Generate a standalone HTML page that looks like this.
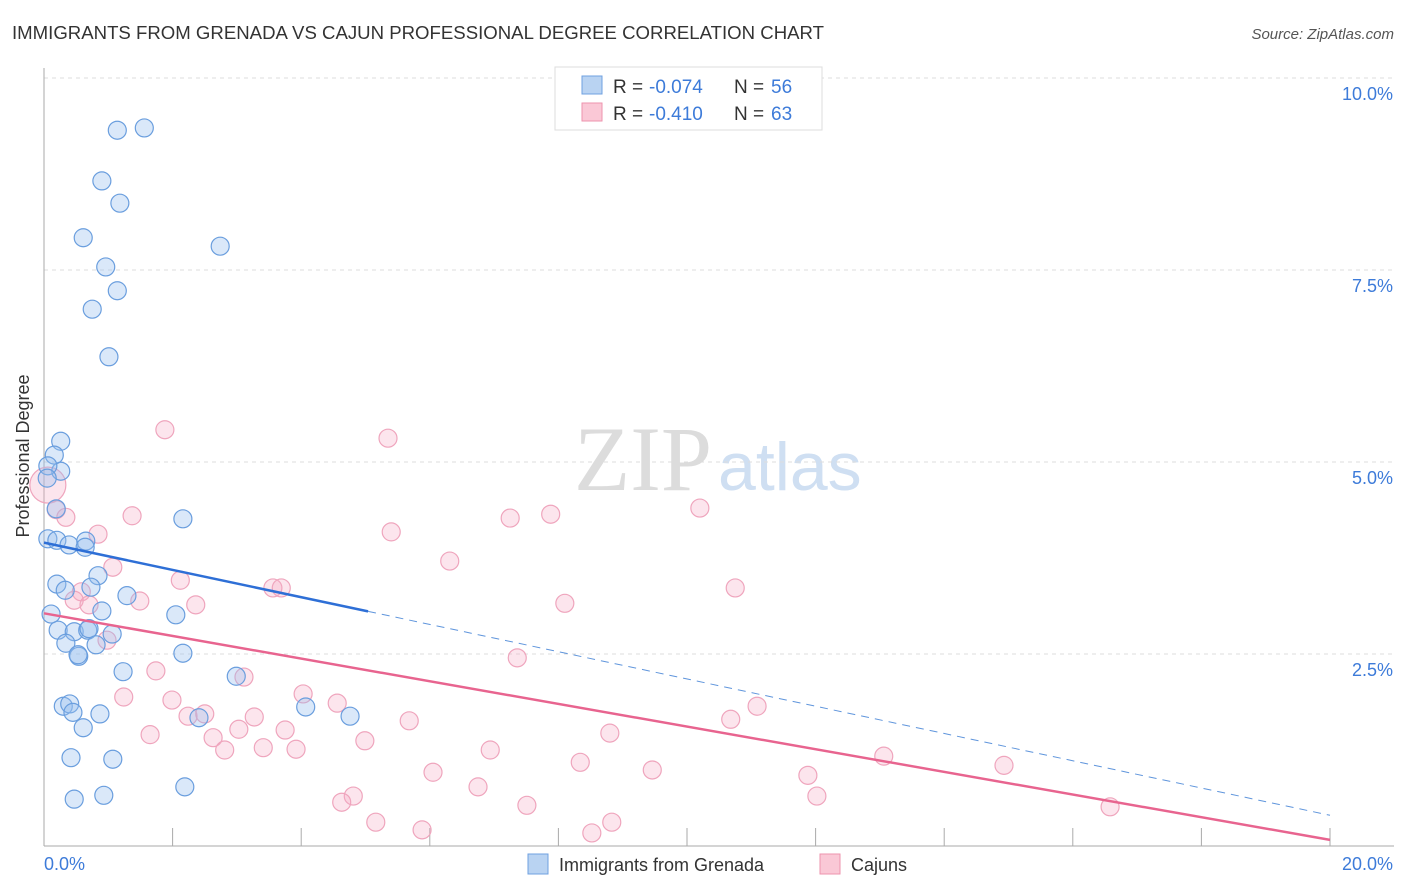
<!DOCTYPE html>
<html><head><meta charset="utf-8"><style>
body{margin:0;background:#fff;font-family:"Liberation Sans",sans-serif}
</style></head><body>
<svg width="1406" height="892" style="position:absolute;left:0;top:0">
<text x="12" y="39" font-size="18" fill="#333" textLength="812" lengthAdjust="spacingAndGlyphs">IMMIGRANTS FROM GRENADA VS CAJUN PROFESSIONAL DEGREE CORRELATION CHART</text>
<text x="1394" y="39" font-size="15" fill="#555" font-style="italic" text-anchor="end">Source: ZipAtlas.com</text>
<text x="712" y="490" font-size="92" fill="#dcdcdc" text-anchor="end" font-family="Liberation Serif">ZIP</text>
<text x="718" y="490" font-size="68" fill="#cfdff2">atlas</text>
<g id="grid"></g><g id="axes"></g><g id="marks"></g>
<text x="29" y="456" font-size="18" fill="#333" text-anchor="middle" transform="rotate(-90 29 456)">Professional Degree</text>
<g>
<rect x="555" y="67" width="267" height="63" fill="#fff" stroke="#ddd"/>
<rect x="582" y="76" width="20" height="18" fill="#b9d3f2" stroke="#6fa0e0"/>
<rect x="582" y="103" width="20" height="18" fill="#fac8d6" stroke="#ee93ae"/>
<text x="613" y="93" font-size="19" fill="#333">R =</text><text x="649" y="93" font-size="19" fill="#3d7bd9">-0.074</text>
<text x="734" y="93" font-size="19" fill="#333">N =</text><text x="771" y="93" font-size="19" fill="#3d7bd9">56</text>
<text x="613" y="120" font-size="19" fill="#333">R =</text><text x="649" y="120" font-size="19" fill="#3d7bd9">-0.410</text>
<text x="734" y="120" font-size="19" fill="#333">N =</text><text x="771" y="120" font-size="19" fill="#3d7bd9">63</text>
</g>
<g>
<rect x="528" y="854" width="20" height="20" fill="#b9d3f2" stroke="#6fa0e0"/>
<text x="559" y="871" font-size="18" fill="#333">Immigrants from Grenada</text>
<rect x="820" y="854" width="20" height="20" fill="#fac8d6" stroke="#ee93ae"/>
<text x="851" y="871" font-size="18" fill="#333">Cajuns</text>
</g>
</svg>
<script>
const xTicks=[0,2,4,6,8,10,12,14,16,18,20];
const yTicks=[2.5,5.0,7.5,10.0];
const yTickLabels=["2.5%","5.0%","7.5%","10.0%"];
const blueX=[1.14,1.56,0.90,1.18,0.61,2.74,0.96,1.14,0.75,1.01,0.26,0.16,0.26,0.06,0.05,0.19,2.16,0.06,0.20,0.39,0.65,0.64,0.20,0.33,0.84,0.73,1.29,2.05,0.90,0.11,0.22,0.47,0.68,0.70,1.06,0.81,0.34,0.54,0.53,2.16,1.23,2.99,4.07,4.76,0.30,0.40,0.45,0.87,2.41,0.61,0.42,1.07,2.19,0.47,0.93];
const blueY=[9.32,9.35,8.66,8.37,7.92,7.81,7.54,7.23,6.99,6.37,5.27,5.09,4.88,4.95,4.79,4.39,4.26,4.00,3.98,3.92,3.97,3.89,3.41,3.33,3.52,3.37,3.26,3.01,3.06,3.02,2.81,2.79,2.81,2.83,2.76,2.62,2.64,2.47,2.49,2.51,2.27,2.21,1.81,1.69,1.82,1.85,1.74,1.72,1.67,1.54,1.15,1.13,0.77,0.61,0.66];
const pinkX=[1.88,5.35,0.06,0.19,0.34,1.37,0.84,5.40,7.25,7.88,10.20,6.31,1.07,2.12,0.58,3.56,3.69,10.75,0.47,0.70,1.49,2.36,8.10,0.98,7.36,1.74,3.11,1.24,4.03,1.99,4.56,11.09,2.24,2.50,3.27,5.68,10.68,3.03,3.75,1.65,2.63,4.99,2.81,3.41,3.92,6.94,8.80,13.06,8.34,14.93,6.05,9.46,11.88,6.75,4.81,4.63,12.02,7.51,16.58,5.16,5.88,8.83,8.52];
const pinkY=[5.42,5.31,4.70,4.38,4.28,4.30,4.06,4.09,4.27,4.32,4.40,3.71,3.63,3.46,3.31,3.36,3.36,3.36,3.20,3.14,3.19,3.14,3.16,2.68,2.45,2.28,2.20,1.94,1.98,1.90,1.86,1.82,1.69,1.72,1.68,1.63,1.65,1.52,1.51,1.45,1.41,1.37,1.25,1.28,1.26,1.25,1.47,1.17,1.09,1.05,0.96,0.99,0.92,0.77,0.65,0.57,0.65,0.53,0.51,0.31,0.21,0.31,0.17];
const blueTrend=[3.95,0.40,5.04];
const pinkTrend=[3.03,0.08];
const NS="http://www.w3.org/2000/svg";
const X=v=>44+v/20*1286, Y=v=>846-v/10*768;
function mk(t,a,p){const e=document.createElementNS(NS,t);for(const k in a)e.setAttribute(k,a[k]);p.appendChild(e);return e;}
const grid=document.getElementById('grid'),axes=document.getElementById('axes'),marks=document.getElementById('marks');
yTicks.forEach((v,i)=>{
 const l=mk('line',{x1:44,x2:1394,y1:Y(v),y2:Y(v),stroke:'#ddd','stroke-dasharray':'4,4'},grid);
 
 
 const t=mk('text',{x:1393,y:Y(v)+22,'font-size':18,fill:'#3d7bd9','text-anchor':'end'},axes);
 t.textContent=yTickLabels[i];
 
 
});
let a=mk('line',{x1:44,x2:44,y1:68,y2:846,stroke:'#aaa'},axes);


a=mk('line',{x1:44,x2:1394,y1:846,y2:846,stroke:'#aaa'},axes);


xTicks.forEach(v=>{const l=mk('line',{x1:X(v),x2:X(v),y1:828,y2:846,stroke:'#aaa'},axes);
 
 });
let t=mk('text',{x:44,y:870,'font-size':18,fill:'#3d7bd9'},axes);t.textContent='0.0%';


t=mk('text',{x:1393,y:870,'font-size':18,fill:'#3d7bd9','text-anchor':'end'},axes);t.textContent='20.0%';


pinkX.forEach((v,i)=>{const c=mk('circle',{cx:X(v),cy:Y(pinkY[i]),r:i==2?18:9,fill:'rgba(246,170,195,0.3)',stroke:'#efa5bd','stroke-width':1.2},marks);
 
 });
blueX.forEach((v,i)=>{const c=mk('circle',{cx:X(v),cy:Y(blueY[i]),r:9,fill:'rgba(150,190,238,0.35)',stroke:'#6a9ede','stroke-width':1.2},marks);
 
 });
const by=x=>blueTrend[0]+(blueTrend[1]-blueTrend[0])*x/20;
let l=mk('line',{x1:X(0),y1:Y(by(0)),x2:X(blueTrend[2]),y2:Y(by(blueTrend[2])),stroke:'#2e6fd6','stroke-width':2.5},marks);


l=mk('line',{x1:X(blueTrend[2]),y1:Y(by(blueTrend[2])),x2:X(20),y2:Y(by(20)),stroke:'#5f95dc','stroke-width':1,'stroke-dasharray':'8,6'},marks);


l=mk('line',{x1:X(0),y1:Y(pinkTrend[0]),x2:X(20),y2:Y(pinkTrend[1]),stroke:'#e8648f','stroke-width':2.5},marks);


</script>
</body></html>
